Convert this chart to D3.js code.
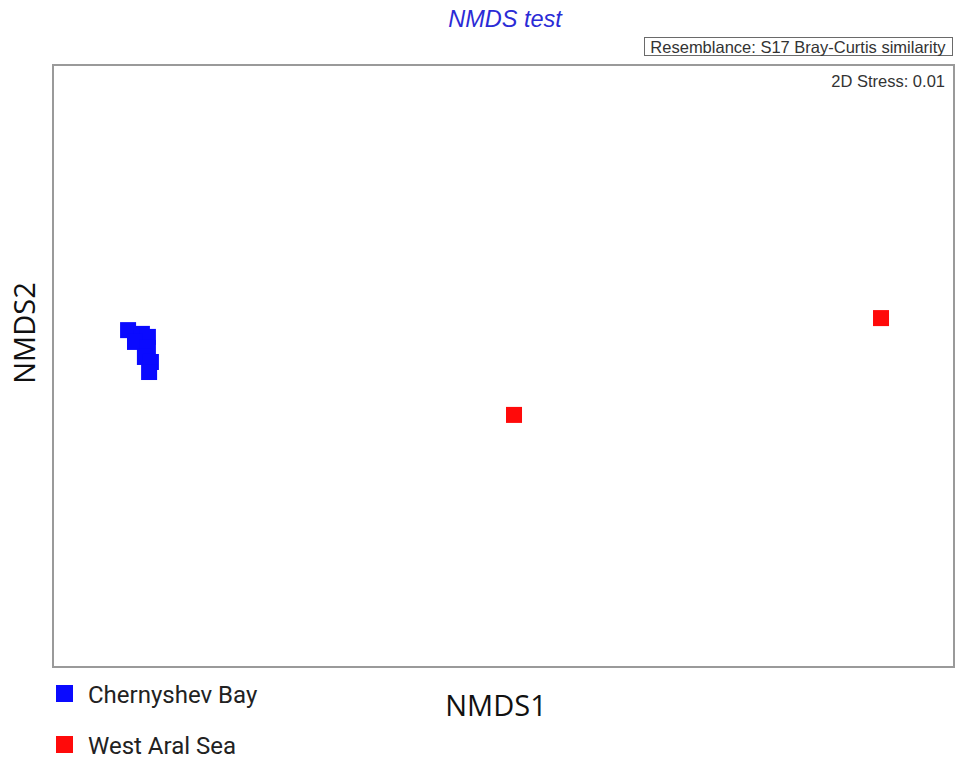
<!DOCTYPE html>
<html>
<head>
<meta charset="utf-8">
<script src="https://cdn.jsdelivr.net/npm/d3@7"></script>
<style>
  html, body { margin: 0; padding: 0; background: #fff; }
  svg { display: block; }
</style>
</head>
<body>
<svg id="chart" width="958" height="758"></svg>
<script>
// NMDS ordination of sampling sites (Bray-Curtis similarity)
const groups = ["Chernyshev Bay", "West Aral Sea"];
const groupColors = ["#0a0aff", "#ff0a0a"];

const chernyshevX = [-1.250, -1.204, -1.184, -1.227, -1.184, -1.194, -1.174, -1.180];
const chernyshevY = [0.143, 0.128, 0.116, 0.096, 0.072, 0.036, 0.016, -0.024];
const westAralX = [0.035, 1.257];
const westAralY = [-0.195, 0.191];

const titleText = "NMDS test";
const resemblanceText = "Resemblance: S17 Bray-Curtis similarity";
const stressText = "2D Stress: 0.01";
const xLabel = "NMDS1";
const yLabel = "NMDS2";

const points = [
  ...chernyshevX.map((x, i) => ({ x, y: chernyshevY[i], g: 0 })),
  ...westAralX.map((x, i) => ({ x, y: westAralY[i], g: 1 }))
];

const svg = d3.select("#chart");
const plot = { left: 53, top: 65, right: 954, bottom: 667 };

const x = d3.scaleLinear().domain([-1.5, 1.5]).range([plot.left, plot.right]);
const y = d3.scaleLinear().domain([-1.2, 1.2]).range([plot.bottom, plot.top]);
const color = d3.scaleOrdinal().domain([0, 1]).range(groupColors);

// title
svg.append("text")
  .attr("x", 505)
  .attr("y", 27)
  .attr("text-anchor", "middle")
  .attr("font-family", "Liberation Sans, Arial, sans-serif")
  .attr("font-style", "italic")
  .attr("font-size", 23.5)
  .attr("fill", "#2b2bd6")
  .text(titleText);

// resemblance box
const resBox = svg.append("g");
resBox.append("rect")
  .attr("x", 644.5).attr("y", 37.5)
  .attr("width", 308).attr("height", 18)
  .attr("fill", "#fff")
  .attr("stroke", "#6a6a6a")
  .attr("stroke-width", 1);
resBox.append("text")
  .attr("x", 798).attr("y", 52.5)
  .attr("text-anchor", "middle")
  .attr("font-family", "Liberation Sans, Arial, sans-serif")
  .attr("font-size", 16.5)
  .attr("fill", "#333")
  .text(resemblanceText);

// plot frame
svg.append("rect")
  .attr("x", plot.left).attr("y", plot.top)
  .attr("width", plot.right - plot.left)
  .attr("height", plot.bottom - plot.top)
  .attr("fill", "none")
  .attr("stroke", "#9a9a9a")
  .attr("stroke-width", 2);

svg.append("text")
  .attr("x", 945).attr("y", 87)
  .attr("text-anchor", "end")
  .attr("font-family", "Liberation Sans, Arial, sans-serif")
  .attr("font-size", 16.5)
  .attr("fill", "#333")
  .text(stressText);

// sample markers
const size = 16;
svg.append("g")
  .selectAll("rect")
  .data(points)
  .join("rect")
  .attr("x", d => x(d.x) - size / 2)
  .attr("y", d => y(d.y) - size / 2)
  .attr("width", size)
  .attr("height", size)
  .attr("fill", d => color(d.g));

// axis titles
svg.append("text")
  .attr("x", 496).attr("y", 716)
  .attr("text-anchor", "middle")
  .attr("font-family", "Open Sans, sans-serif")
  .attr("font-size", 29)
  .attr("fill", "#111")
  .text(xLabel);

svg.append("text")
  .attr("transform", "translate(35,333) rotate(-90)")
  .attr("text-anchor", "middle")
  .attr("font-family", "Open Sans, sans-serif")
  .attr("font-size", 29)
  .attr("fill", "#111")
  .text(yLabel);

// legend
const legend = svg.append("g")
  .selectAll("g")
  .data(groups)
  .join("g")
  .attr("transform", (d, i) => `translate(56,${685 + i * 51})`);

legend.append("rect")
  .attr("width", 17).attr("height", 17)
  .attr("fill", (d, i) => groupColors[i]);

legend.append("text")
  .attr("x", 32).attr("y", 17.5)
  .attr("font-family", "Roboto, sans-serif")
  .attr("font-size", 24)
  .attr("fill", "#222")
  .text(d => d);
</script>
</body>
</html>
